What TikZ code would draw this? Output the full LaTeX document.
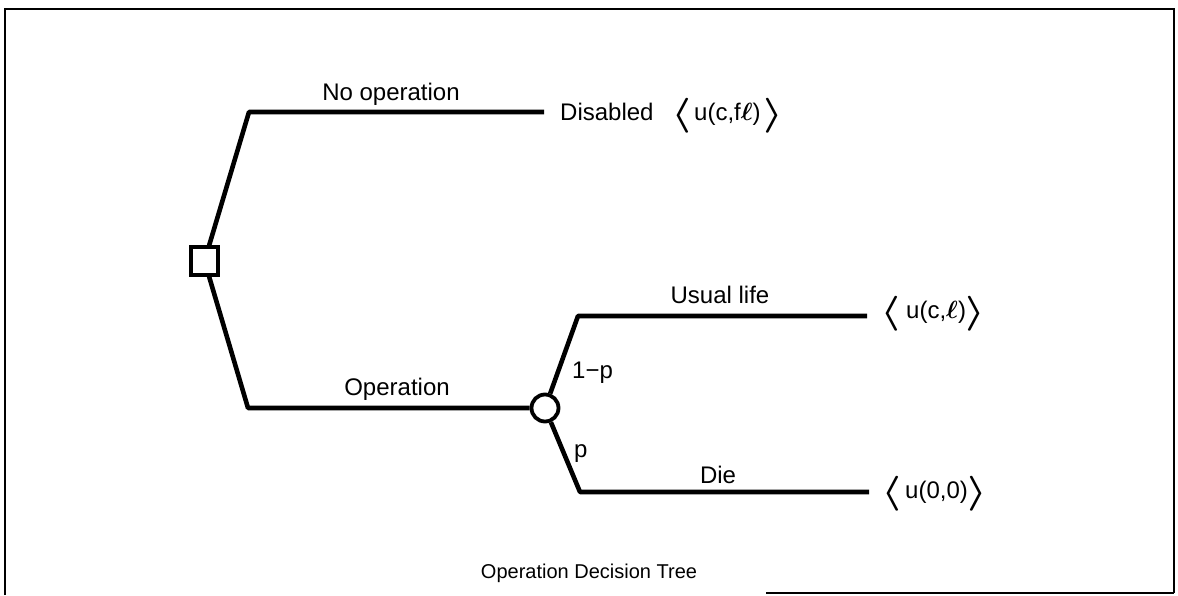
\documentclass[tikz,border=0pt]{standalone}
\usepackage{fontspec}
\setmainfont{Liberation Sans}
\usepackage{graphicx}
\usepackage{bm}
% tall angle brackets around the payoffs
\newcommand{\angL}{\raisebox{-4.25pt}{\resizebox*{20pt}{35pt}{$\bm{\langle}$}}}
\newcommand{\angR}{\raisebox{-4.25pt}{\resizebox*{20pt}{35pt}{$\bm{\rangle}$}}}
\newcommand{\ellb}{$\bm{\ell}$}
\tikzset{
  branch/.style={line width=4.6pt, line join=round},
  decision/.style={draw, rectangle, line width=3.8pt, minimum size=27.5pt, inner sep=0pt},
  chance/.style={draw, circle, line width=3.8pt, minimum size=27pt, inner sep=0pt},
  lbl/.style={font=\fontsize{24}{28}\selectfont, inner sep=0pt},
  caption/.style={font=\fontsize{20}{24}\selectfont, inner sep=0pt},
  frame/.style={line width=2.5pt}
}
\begin{document}
\begin{tikzpicture}[x=1pt,y=-1pt]
  \useasboundingbox (0,0) rectangle (1178,595);

  % outer frame
  \coordinate (f1) at (5,595);
  \coordinate (f2) at (5,9);
  \coordinate (f3) at (1174,9);
  \coordinate (f4) at (1174,593);
  \coordinate (f5) at (766,593);
  \draw[frame] (f1) -- (f2) -- (f3) -- (f4);
  \draw[line width=1.5pt] (f4) -- (f5);

  % decision and chance nodes
  \node[decision] (sq) at (204.5,261) {};
  \node[chance] (ci) at (545,408) {};

  % corners of the branches
  \coordinate (t1) at (249,112);
  \coordinate (t2) at (544,112);
  \coordinate (b1) at (248,408);
  \coordinate (u1) at (578,316);
  \coordinate (u2) at (867,316);
  \coordinate (d1) at (580,492);
  \coordinate (d2) at (869,492);

  \draw[branch] (sq) -- (t1) -- (t2);
  \draw[branch] (sq) -- (b1) -- (ci);
  \draw[branch] (ci) -- (u1) -- (u2);
  \draw[branch] (ci) -- (d1) -- (d2);

  % branch labels
  \node[lbl, anchor=base] (nop) at (391,100) {No operation};
  \node[lbl, anchor=base] (op) at (397,395) {Operation};
  \node[lbl, anchor=base] (usual) at (720,303) {Usual life};
  \node[lbl, anchor=base] (die) at (718,483) {Die};
  \node[lbl, anchor=base west] (q) at (572,378) {1−p};
  \node[lbl, anchor=base west] (p) at (574,457) {p};

  % outcomes
  \node[lbl, anchor=base west] (dis) at (560,120) {Disabled};
  \node[lbl, anchor=base west] (ua) at (671,120) {\angL\hspace{3pt}u(c,f\ellb)\hspace{3pt}\angR};
  \node[lbl, anchor=base west] (ub) at (880,318.5) {\angL\hspace{6pt}u(c,\ellb)\angR};
  \node[lbl, anchor=base west] (uc) at (881,498.5) {\angL\hspace{4pt}u(0,0)\angR};

  \node[caption, anchor=base] (cap) at (589,578) {Operation Decision Tree};
\end{tikzpicture}
\end{document}
